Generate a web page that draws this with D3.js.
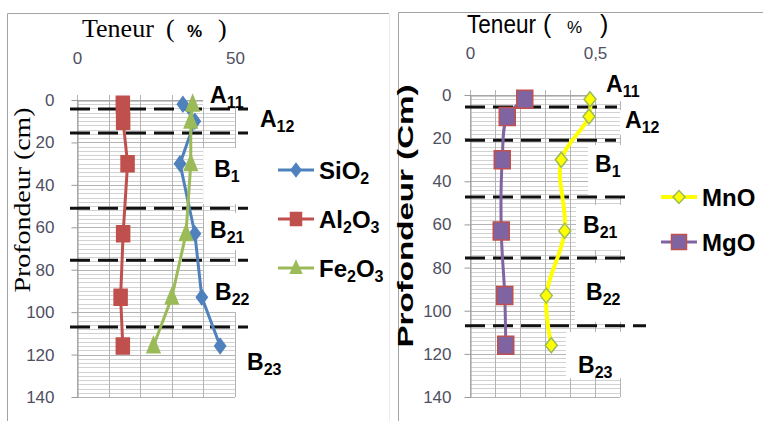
<!DOCTYPE html>
<html>
<head>
<meta charset="utf-8">
<script src="https://d3js.org/d3.v7.min.js"></script>
<style>
  body { margin: 0; background: #fff; }
  svg text { font-family: "Liberation Sans", Arial, sans-serif; }
</style>
</head>
<body>
<div id="chart"></div>
<script>
// sample depths (cm)
var depths = [2, 10, 30, 63, 93, 116];
// major oxides (%)
var sio2 = [33.5, 37.3, 32.6, 37.3, 39.5, 45.3];
var al2o3 = [14.5, 14.6, 16, 14.6, 13.8, 14.5];
var fe2o3 = [36.6, 36, 36, 34.5, 30, 24.2];
// minor oxides (%)
var mno = [0.48, 0.476, 0.365, 0.379, 0.305, 0.325];
var mgo = [0.219, 0.149, 0.129, 0.125, 0.139, 0.143];
// horizons and their limits (cm)
var horizons = ["A11", "A12", "B1", "B21", "B22", "B23"];
var limitsL = [4.3, 15.6, 51, 75.5, 107];
var limitsR = [5.6, 21, 47.3, 75.6, 107];
// tick labels
var depthTicks = [0, 20, 40, 60, 80, 100, 120, 140];
var ticksL = [0, 50];
var ticksR = [0, 0.5];

var svg = d3.select("#chart").append("svg")
  .attr("width", 763).attr("height", 421);

// panel frames
svg.append("path").attr("d", "M7.5,421V13.5H389").attr("fill", "none").attr("stroke", "#a3a3a3");
svg.append("line").attr("x1", 389.5).attr("x2", 389.5).attr("y1", 14).attr("y2", 421).attr("stroke", "#ececec");
svg.append("path").attr("d", "M398.5,421V12.5H763").attr("fill", "none").attr("stroke", "#a3a3a3");

//marker shapes
function marker(type, w, h) {
  if (type == "diamond") return "M0," + (-h) + "L" + w + ",0L0," + h + "L" + (-w) + ",0Z";
  if (type == "triangle") return "M0," + (-h) + "L" + w + "," + (h * 0.75) + "L" + (-w) + "," + (h * 0.75) + "Z";
  return "M" + (-w) + "," + (-h) + "H" + w + "V" + h + "H" + (-w) + "Z";
}

// text with chemical / horizon subscripts
function richText(g, str, x, y, size, subSize, shift) {
  var t = g.append("text").attr("x", x).attr("y", y)
    .style("font-size", size + "px").style("font-weight", "bold").attr("fill", "#000");
  var down = false;
  str.match(/\D+|\d+/g).forEach(function(p) {
    var ts = t.append("tspan").text(p);
    if (/\d/.test(p)) {
      ts.style("font-size", subSize + "px").attr("dy", down ? 0 : shift);
      down = true;
    } else {
      ts.attr("dy", down ? -shift : 0);
      down = false;
    }
  });
  return t;
}

function drawPanel(p) {
  var g = svg.append("g");
  var x = p.x, y = p.y;
  var x0 = x.range()[0], x1 = x.range()[1];
  var y0 = y.range()[0], y1 = y.range()[1];

  //minor horizontal grid
  g.selectAll(".hmin").data(d3.range(0, 141, 2)).enter().append("line")
    .attr("x1", x0).attr("x2", x1)
    .attr("y1", function(d) { return Math.round(y(d)) + 0.5; })
    .attr("y2", function(d) { return Math.round(y(d)) + 0.5; })
    .attr("stroke", "#d2d2d2");
  // major horizontal grid
  g.selectAll(".hmaj").data(depthTicks).enter().append("line")
    .attr("x1", x0).attr("x2", x1)
    .attr("y1", function(d) { return Math.round(y(d)) + 0.5; })
    .attr("y2", function(d) { return Math.round(y(d)) + 0.5; })
    .attr("stroke", "#b4b4b4");
  // vertical grid
  g.selectAll(".v").data(p.vgrid).enter().append("line")
    .attr("x1", function(d) { return Math.round(x(d)) + 0.5; })
    .attr("x2", function(d) { return Math.round(x(d)) + 0.5; })
    .attr("y1", y0 - 5).attr("y2", y1)
    .attr("stroke", "#b4b4b4");

  // axes
  var ay = g.append("g").attr("transform", "translate(" + (Math.round(x0) + 0.5) + ",0)")
    .call(d3.axisLeft(y).tickValues(depthTicks).tickSizeInner(6).tickSizeOuter(0).tickPadding(p.ypad));
  var ax = g.append("g").attr("transform", "translate(0," + (Math.round(y0) + 0.5) + ")")
    .call(d3.axisTop(x).tickValues(p.xticks).tickFormat(p.xfmt).tickSize(0).tickPadding(p.xpad));
  [ay, ax].forEach(function(a) {
    a.select(".domain").attr("stroke", "#9a9a9a");
    a.selectAll(".tick line").attr("stroke", "#9a9a9a");
    a.selectAll("text").attr("fill", "#4f4f62")
      .style("font-size", "17px").style("font-family", "'Liberation Sans', Arial, sans-serif");
  });

  // white boxes behind horizon labels
  horizons.forEach(function(h, i) {
    var px = x(p.labels[i][0]), py = y(p.labels[i][1]), b = p.boxes[i];
    g.append("rect").attr("x", px + b[0]).attr("y", py + b[1])
      .attr("width", b[2] - b[0]).attr("height", b[3] - b[1]).attr("fill", "#fff");
  });

  // horizon limits
  g.selectAll(".lim").data(p.limits).enter().append("line")
    .attr("x1", p.limX[0])
    .attr("x2", function(d, i) { return p.limEnd ? p.limEnd[i] : p.limX[1]; })
    .attr("y1", function(d) { return y(d); })
    .attr("y2", function(d) { return y(d); })
    .attr("stroke", "#111").attr("stroke-width", 3)
    .attr("stroke-dasharray", "20,8");

  // series
  p.series.forEach(function(s) {
    var pts = s.values.map(function(v, i) { return {v: v, d: depths[i]}; });
    var line = d3.line()
      .curve(p.curve)
      .x(function(d) { return x(d.v); })
      .y(function(d) { return y(d.d); });
    g.append("path").datum(pts).attr("d", line)
      .attr("fill", "none").attr("stroke", s.color).attr("stroke-width", s.width);
    g.selectAll(null).data(pts).enter().append("path")
      .attr("transform", function(d) { return "translate(" + x(d.v) + "," + y(d.d) + ")"; })
      .attr("d", marker(s.marker, s.mw, s.mh))
      .attr("fill", s.fill).attr("stroke", s.stroke).attr("stroke-width", 1.5);
  });

  // horizon labels
  horizons.forEach(function(h, i) {
    richText(g, h, x(p.labels[i][0]), y(p.labels[i][1]), 23, 16, 5);
  });

  // legend
  p.series.forEach(function(s, i) {
    var ly = p.legend.y[i], lx = p.legend.x;
    g.append("line").attr("x1", lx).attr("x2", lx + 36).attr("y1", ly).attr("y2", ly)
      .attr("stroke", s.color).attr("stroke-width", s.width);
    g.append("path").attr("transform", "translate(" + (lx + 18) + "," + ly + ")")
      .attr("d", marker(s.marker, s.lw, s.lh))
      .attr("fill", s.fill).attr("stroke", s.stroke).attr("stroke-width", 1.5);
    richText(g, s.name, lx + 41, ly + 9, 24, 16, 5);
  });
}

drawPanel({
  x: d3.scaleLinear().domain([0, 50]).range([77, 235]),
  y: d3.scaleLinear().domain([0, 140]).range([100, 397]),
  vgrid: d3.range(0, 51, 10),
  xticks: ticksL, xfmt: d3.format("d"), xpad: 37, ypad: 17,
  curve: d3.curveLinear,
  limits: limitsL, limX: [70, 248],
  labels: [[42.1, 1.4], [57.9, 12.7], [43.4, 36.3], [42.1, 65.1], [43.7, 94.3], [53.8, 127.3]],
  boxes: [[-7, -19, 45, 4], [-5, -17, 45, 8], [-11, -29, 31, 27], [-6, -25, 45, 12], [-11, -34, 45, 12], [-4, -20, 45, 10]],
  legend: {x: 278, y: [170, 219, 268]},
  series: [
    {name: "SiO2", values: sio2, color: "#4f81bd", fill: "#4f81bd", stroke: "#4f81bd", width: 3, marker: "diamond", mw: 5.5, mh: 7.5, lw: 5, lh: 6.5},
    {name: "Al2O3", values: al2o3, color: "#c0504d", fill: "#c0504d", stroke: "#c0504d", width: 3, marker: "square", mw: 6.5, mh: 8, lw: 5.5, lh: 6.5},
    {name: "Fe2O3", values: fe2o3, color: "#9bbb59", fill: "#9bbb59", stroke: "#9bbb59", width: 3, marker: "triangle", mw: 6.5, mh: 9, lw: 5.5, lh: 7}
  ]
});

drawPanel({
  x: d3.scaleLinear().domain([0, 0.6]).range([470, 620]),
  y: d3.scaleLinear().domain([0, 140]).range([95, 397]),
  vgrid: d3.range(0, 7).map(function(i) { return i / 10; }),
  xticks: ticksR, xfmt: function(d) { return String(d).replace(".", ","); }, xpad: 37, ypad: 13,
  curve: d3.curveCatmullRom,
  limits: limitsR, limX: [465, 632], limEnd: [617, 616, 630, 632, 646],
  labels: [[0.544, -1.4], [0.62, 15.3], [0.5, 35.7], [0.452, 64], [0.464, 95], [0.432, 128.9]],
  boxes: [[-13, -17, 39, 9], [-5, -18, 40, 7], [-7, -27, 30, 24], [-7, -28, 39, 17], [-11, -37, 42, 22], [-12, -41, 44, 5]],
  legend: {x: 661, y: [197, 242]},
  series: [
    {name: "MnO", values: mno, color: "#ffff00", fill: "#ffff00", stroke: "#9bbb59", width: 4, marker: "diamond", mw: 6, mh: 7.5, lw: 6, lh: 6.5},
    {name: "MgO", values: mgo, color: "#8064a2", fill: "#8064a2", stroke: "#c0504d", width: 3, marker: "square", mw: 8, mh: 9, lw: 7.5, lh: 7.5}
  ]
});

// axis titles
var tl = svg.append("text").attr("y", 37).attr("fill", "#000")
  .style("font-family", "'Liberation Serif', 'Times New Roman', serif").style("font-size", "26px");
tl.append("tspan").attr("x", 82).text("Teneur");
tl.append("tspan").attr("x", 166).text("(");
tl.append("tspan").attr("x", 187).style("font-family", "'Liberation Sans', Arial, sans-serif")
  .style("font-size", "17px").style("font-weight", "bold").text("%");
tl.append("tspan").attr("x", 218).text(")");

var tr = svg.append("text").attr("y", 33).attr("fill", "#000").style("font-size", "25px");
tr.append("tspan").attr("x", 467).attr("textLength", 69).attr("lengthAdjust", "spacingAndGlyphs").text("Teneur");
tr.append("tspan").attr("x", 543).text("(");
tr.append("tspan").attr("x", 567).style("font-size", "17px").text("%");
tr.append("tspan").attr("x", 600).text(")");

svg.append("text").attr("transform", "translate(30,200) rotate(-90)")
  .attr("text-anchor", "middle").attr("fill", "#000")
  .attr("textLength", 185).attr("lengthAdjust", "spacingAndGlyphs")
  .style("font-family", "'Liberation Serif', 'Times New Roman', serif").style("font-size", "24px")
  .text("Profondeur (cm)");

svg.append("text").attr("transform", "translate(413,216) rotate(-90)")
  .attr("text-anchor", "middle").attr("fill", "#000")
  .attr("textLength", 263).attr("lengthAdjust", "spacingAndGlyphs")
  .style("font-size", "22px").style("font-weight", "bold")
  .text("Profondeur (Cm)");
</script>
</body>
</html>
